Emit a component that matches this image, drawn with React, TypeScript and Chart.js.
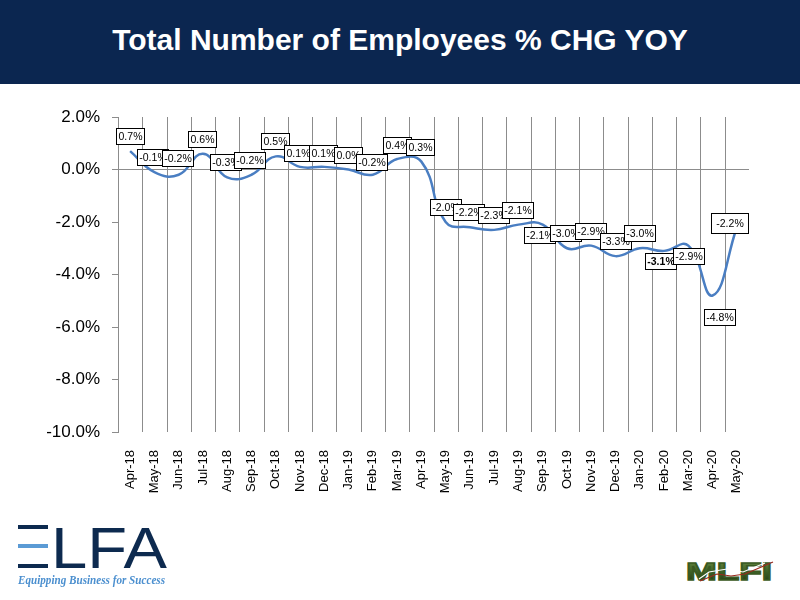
import React, { useEffect, useRef } from "react";
import { Chart, registerables } from "chart.js";

Chart.register(...registerables);

const categories = [
  "Apr-18", "May-18", "Jun-18", "Jul-18", "Aug-18", "Sep-18", "Oct-18", "Nov-18", "Dec-18",
  "Jan-19", "Feb-19", "Mar-19", "Apr-19", "May-19", "Jun-19", "Jul-19", "Aug-19", "Sep-19",
  "Oct-19", "Nov-19", "Dec-19", "Jan-20", "Feb-20", "Mar-20", "Apr-20", "May-20",
];

const values = [
  0.7, -0.1, -0.2, 0.6, -0.3, -0.2, 0.5, 0.1, 0.1,
  0.0, -0.2, 0.4, 0.3, -2.0, -2.2, -2.3, -2.1, -2.1,
  -3.0, -2.9, -3.3, -3.0, -3.1, -2.9, -4.8, -2.2,
];

const yMin = -10;
const yMax = 2;
const yStep = 2;

const titleText = "Total Number of Employees % CHG YOY";

// label placement (dx, dy of box centre relative to the point), kept apart from the data
const labelOffsets: [number, number][] = [
  [0, -15], [-2, -15], [-1.5, -16.5], [-1, -15], [-2, -15], [-2, -15], [-1, -15], [-2, -14], [-1, -14],
  [-1, -14.5], [-1, -13], [-0.5, -14], [-1, -14.5], [-0.5, -15], [-1.5, -15], [-0.7, -15], [-1, -14.6], [-3, 10],
  [-1, -15], [-1, -14.6], [-0.5, -15.5], [0, -15.3], [-4, 10.6], [0, 10.4], [7, 21], [-7, -4],
];

const gridPlugin = {
  id: "categoryGrid",
  beforeDatasetsDraw(chart: any) {
    const ctx = chart.ctx;
    const xs = chart.scales.x;
    const area = chart.chartArea;
    const n = categories.length;
    ctx.save();
    ctx.strokeStyle = "#8c8c8c";
    ctx.lineWidth = 1;
    for (let i = 0; i < n; i++) {
      const c = xs.getPixelForValue(i);
      const prev = i > 0 ? xs.getPixelForValue(i - 1) : c - (xs.getPixelForValue(1) - c);
      const x = Math.round((c + prev) / 2) + 0.5;
      ctx.beginPath();
      ctx.moveTo(x, area.top);
      ctx.lineTo(x, area.bottom);
      ctx.stroke();
    }
    ctx.restore();
  },
};

const labelPlugin = {
  id: "boxLabels",
  afterDatasetsDraw(chart: any) {
    const ctx = chart.ctx;
    const meta = chart.getDatasetMeta(0);
    ctx.save();
    meta.data.forEach((pt: any, i: number) => {
      const v = values[i];
      const text = v.toFixed(1) + "%";
      const bold = i === 22;
      const big = i === values.length - 1;
      ctx.font = (bold ? "bold " : "") + "10.5px 'Liberation Sans', Arial, sans-serif";
      const tw = ctx.measureText(text).width;
      const padX = big ? 5 : 2;
      const h = big ? 20 : 16;
      const w = Math.round(tw + padX * 2);
      const [dx, dy] = labelOffsets[i];
      const cx = pt.x + dx;
      const cy = pt.y + dy;
      const x0 = Math.round(cx - w / 2) + 0.5;
      const y0 = Math.round(cy - h / 2) + 0.5;
      ctx.fillStyle = "#ffffff";
      ctx.fillRect(x0, y0, w, h);
      ctx.strokeStyle = "#000000";
      ctx.lineWidth = 1;
      ctx.strokeRect(x0, y0, w, h);
      ctx.fillStyle = "#000000";
      ctx.textAlign = "center";
      ctx.textBaseline = "middle";
      ctx.fillText(text, x0 + w / 2, y0 + h / 2 + 0.5);
    });
    ctx.restore();
  },
};

function ChartBox() {
  const ref = useRef<HTMLCanvasElement | null>(null);
  useEffect(() => {
    if (!ref.current) return;
    const chart = new Chart(ref.current, {
      type: "line",
      data: {
        labels: categories,
        datasets: [
          {
            data: values,
            borderColor: "#4a7ec2",
            borderWidth: 2.5,
            pointRadius: 0,
            tension: 0.45,
            fill: false,
          },
        ],
      },
      options: {
        responsive: false,
        animation: false,
        devicePixelRatio: 1,
        layout: { padding: { top: 27, right: 51, left: 0, bottom: 0 } },
        plugins: {
          legend: { display: false },
          tooltip: { enabled: false },
          title: { display: false },
        },
        scales: {
          x: {
            type: "category",
            offset: true,
            border: { display: false },
            grid: { display: false },
            ticks: {
              autoSkip: false,
              minRotation: 90,
              maxRotation: 90,
              padding: 10,
              color: "#000000",
              font: { family: "'Liberation Sans', Arial, sans-serif", size: 13 },
            },
            afterFit: (s: any) => {
              s.height = 98;
            },
          },
          y: {
            min: yMin,
            max: yMax,
            border: { display: true, color: "#8c8c8c" },
            grid: {
              color: (c: any) => (c.tick && c.tick.value === 0 ? "#8c8c8c" : "rgba(0,0,0,0)"),
              tickColor: "#8c8c8c",
              tickLength: 6,
              drawTicks: true,
            },
            ticks: {
              stepSize: yStep,
              padding: 12,
              color: "#000000",
              font: { family: "'Liberation Sans', Arial, sans-serif", size: 17 },
              callback: (v: any) => Number(v).toFixed(1) + "%",
            },
            afterFit: (s: any) => {
              s.width = 118;
            },
          },
        },
      },
      plugins: [gridPlugin, labelPlugin],
    });
    return () => chart.destroy();
  }, []);
  return (
    <canvas
      ref={ref}
      width={800}
      height={440}
      style={{ position: "absolute", left: 0, top: 90, width: 800, height: 440 }}
    />
  );
}

function ElfaLogo() {
  return (
    <svg
      width={190}
      height={80}
      style={{ position: "absolute", left: 0, top: 515 }}
      viewBox="0 0 190 80"
    >
      <rect x={18} y={10} width={30} height={4} fill="#0d2a4f" />
      <rect x={18} y={29} width={30} height={4} fill="#5b9bd5" />
      <rect x={18} y={49} width={30} height={4} fill="#0d2a4f" />
      <text
        x={51}
        y={53}
        fill="#0d2a4f"
        fontFamily="'Liberation Sans', Arial, sans-serif"
        fontSize={57}
        fontWeight={400}
        textLength={116}
        lengthAdjust="spacingAndGlyphs"
      >
        LFA
      </text>
      <text
        x={18}
        y={69}
        fill="#4b8fcf"
        fontFamily="'Liberation Serif', 'Times New Roman', serif"
        fontStyle="italic"
        fontWeight={700}
        fontSize={13}
        textLength={147}
        lengthAdjust="spacingAndGlyphs"
      >
        Equipping Business for Success
      </text>
    </svg>
  );
}

function MlfiLogo() {
  return (
    <svg
      width={110}
      height={45}
      style={{ position: "absolute", left: 675, top: 550 }}
      viewBox="0 0 110 45"
    >
      <defs>
        <linearGradient id="mlfiG" x1="0" y1="0" x2="0" y2="1">
          <stop offset="0" stopColor="#6b8d45" />
          <stop offset="0.5" stopColor="#3e6126" />
          <stop offset="1" stopColor="#1e3511" />
        </linearGradient>
      </defs>
      <text
        x={11}
        y={30}
        fill="url(#mlfiG)"
        stroke="#3a5a22"
        strokeWidth={1.4}
        fontFamily="'Liberation Sans', Arial, sans-serif"
        fontWeight={700}
        fontSize={24}
        textLength={86}
        lengthAdjust="spacingAndGlyphs"
      >
        MLFI
      </text>
      <polyline
        points="24,29 34,22 52,19 68,22 90,13"
        fill="none"
        stroke="#ffffff"
        strokeWidth={1.2}
      />
      <polyline
        points="25,31 42,24 56,26 70,24 98,12"
        fill="none"
        stroke="#9b2a1e"
        strokeWidth={1.2}
      />
    </svg>
  );
}

export default function App() {
  return (
    <div
      style={{
        position: "absolute",
        left: 0,
        top: 0,
        width: 800,
        height: 600,
        background: "#ffffff",
        overflow: "hidden",
      }}
    >
      <div
        style={{
          position: "absolute",
          left: 0,
          top: 0,
          width: 800,
          height: 84,
          background: "#0b2650",
        }}
      >
        <div
          style={{
            width: 800,
            height: 80,
            lineHeight: "80px",
            textAlign: "center",
            color: "#ffffff",
            fontFamily: "'Liberation Sans', Arial, sans-serif",
            fontWeight: 700,
            fontSize: 30,
            whiteSpace: "nowrap",
          }}
        >
          {titleText}
        </div>
      </div>
      <ChartBox />
      <ElfaLogo />
      <MlfiLogo />
    </div>
  );
}
